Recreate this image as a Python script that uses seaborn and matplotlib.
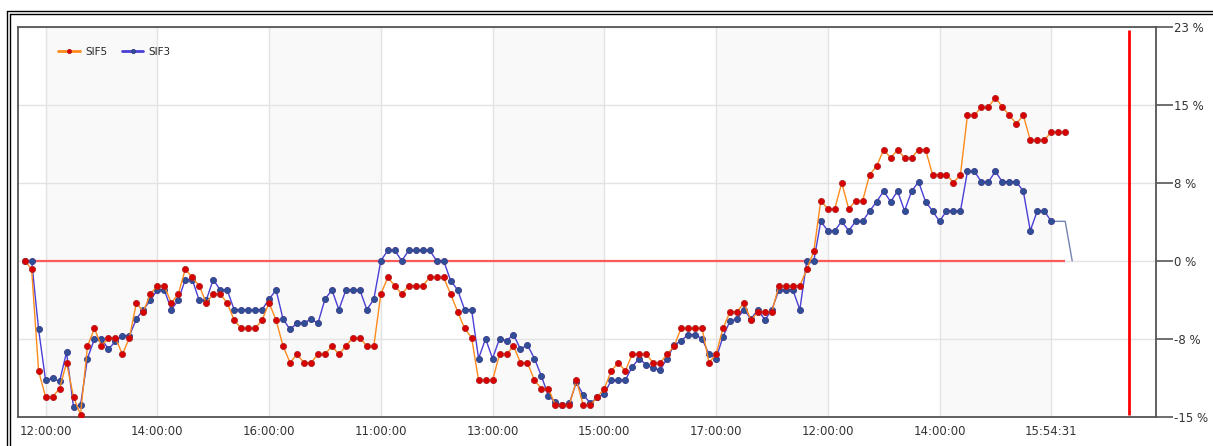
import numpy as np
import pandas as pd
import matplotlib
matplotlib.use("Agg")
import matplotlib.pyplot as plt
from matplotlib.lines import Line2D
import seaborn as sns

# --- data (one point every ~7.5 min, sessions joined) ---
sif5 = [0, -0.8, -10.6, -13.1, -13.1, -12.3, -9.8, -13.1, -14.8, -8.2,
        -6.5, -8.2, -7.4, -7.4, -9.0, -7.4, -4.05, -4.9, -3.2, -2.4,
        -2.4, -4.05, -3.2, -0.8, -1.6, -2.4, -4.05, -3.2, -3.2, -4.05,
        -5.7, -6.5, -6.5, -6.5, -5.7, -4.05, -5.7, -8.2, -9.8, -9.0,
        -9.8, -9.8, -9.0, -9.0, -8.2, -9.0, -8.2, -7.4, -7.4, -8.2,
        -8.2, -3.2, -1.6, -2.4, -3.2, -2.4, -2.4, -2.4, -1.6, -1.6,
        -1.6, -3.2, -4.9, -6.5, -7.4, -11.5, -11.5, -11.5, -9.0, -9.0,
        -8.2, -9.8, -9.8, -11.5, -12.3, -12.3, -13.9, -13.9, -13.9, -11.5,
        -13.9, -13.9, -13.1, -12.3, -10.6, -9.8, -10.6, -9.0, -9.0, -9.0,
        -9.8, -9.8, -9.0, -8.2, -6.5, -6.5, -6.5, -6.5, -9.8, -9.0,
        -6.5, -4.9, -4.9, -4.05, -5.7, -4.9, -4.9, -4.9, -2.4, -2.4,
        -2.4, -2.4, -0.8, 0.9, 5.8, 5.0, 5.0, 7.5, 5.0, 5.8,
        5.8, 8.3, 9.1, 10.7, 9.9, 10.7, 9.9, 9.9, 10.7, 10.7,
        8.3, 8.3, 8.3, 7.5, 8.3, 14.0, 14.0, 14.8, 14.8, 15.7,
        14.8, 14.0, 13.2, 14.0, 11.6, 11.6, 11.6, 12.4, 12.4, 12.4]

sif3 = [0, 0, -6.6, -11.5, -11.3, -11.6, -8.8, -14.1, -13.9, -9.4,
        -7.5, -7.5, -8.5, -7.75, -7.2, -7.2, -5.6, -4.7, -3.8, -2.8,
        -2.8, -4.7, -3.8, -1.8, -1.8, -3.8, -3.8, -1.8, -2.8, -2.8,
        -4.7, -4.7, -4.7, -4.7, -4.7, -3.7, -2.8, -5.6, -6.6, -6.0,
        -6.0, -5.6, -6.0, -3.7, -2.8, -4.7, -2.8, -2.8, -2.8, -4.7,
        -3.7, 0, 1.0, 1.0, 0, 1.0, 1.0, 1.0, 1.0, 0,
        0, -1.9, -2.8, -4.7, -4.7, -9.4, -7.5, -9.4, -7.5, -7.7,
        -7.1, -8.5, -8.1, -9.4, -11.1, -13.0, -13.6, -13.9, -13.7, -11.7,
        -12.9, -13.7, -13.15, -12.8, -11.5, -11.5, -11.5, -10.2, -9.4, -10.0,
        -10.35, -10.5, -9.4, -8.1, -7.7, -7.1, -7.1, -7.5, -9.0, -9.4,
        -7.3, -5.8, -5.6, -4.7, -5.6, -4.7, -5.7, -4.7, -2.8, -2.8,
        -2.8, -4.7, 0, 0, 3.8, 2.9, 2.9, 3.8, 2.9, 3.8,
        3.8, 4.8, 5.7, 6.7, 5.7, 6.7, 4.8, 6.7, 7.6, 5.7,
        4.8, 3.8, 4.8, 4.8, 4.8, 8.6, 8.6, 7.6, 7.6, 8.6,
        7.6, 7.6, 7.6, 6.7, 2.9, 4.8, 4.8, 3.8]
# unmarked tail of SIF3 after the last quote
sif3_tail = [3.8, 3.8, 3.8, 0]

tick_idx = [3, 19, 35, 51, 67, 83, 99, 115, 131, 147]
tick_labels = ["12:00:00", "14:00:00", "16:00:00", "11:00:00", "13:00:00",
               "15:00:00", "17:00:00", "12:00:00", "14:00:00", "15:54:31"]
y_ticks = [-15, -7.5, 0, 7.5, 15, 22.5]
y_labels = ["-15 %", "-8 %", "0 %", "8 %", "15 %", "23 %"]
cursor_idx = 158.1

df5 = pd.DataFrame({"idx": np.arange(len(sif5)), "val": sif5})
df3 = pd.DataFrame({"idx": np.arange(len(sif3)), "val": sif3})
dft = pd.DataFrame({"idx": np.arange(len(sif3) - 1, len(sif3) - 1 + len(sif3_tail)),
                    "val": sif3_tail})

sns.set_style("white")
plt.rcParams['font.family'] = ['DejaVu Sans']

fig = plt.figure(figsize=(12.13, 4.46), dpi=100)
ax = fig.add_axes([18 / 1213, 1 - 416.7 / 446, (1156 - 18) / 1213, (416.7 - 27) / 446])

# alternating background bands
for a, b in zip(tick_idx[0::2], tick_idx[1::2]):
    ax.axvspan(a, b, color="#f9f9f9", zorder=0, lw=0)

ax.grid(True, color="#e3e3e3", lw=1)
ax.set_axisbelow(True)

# zero reference line
ax.hlines(0, 0, len(sif5) - 1, color="#ff5a5a", lw=1.6, zorder=2)

sns.lineplot(data=dft, x="idx", y="val", ax=ax, color="#7682b0", lw=1.0, zorder=3)
sns.lineplot(data=df3, x="idx", y="val", ax=ax, color="#4a3fd6", lw=1.0,
             marker="o", markersize=4.4, markerfacecolor="#2f4f96",
             markeredgecolor="#3a3a8a", markeredgewidth=0.6, label="SIF3", zorder=4)
sns.lineplot(data=df5, x="idx", y="val", ax=ax, color="#ff8a1c", lw=1.0,
             marker="o", markersize=4.4, markerfacecolor="#d90000",
             markeredgecolor="#b02020", markeredgewidth=0.6, label="SIF5", zorder=5)

# cursor line
ax.vlines(cursor_idx, -14.8, 22.2, color="#ff0000", lw=2.0, zorder=6)

ax.set_xlim(-0.95, 162)
ax.set_ylim(-15, 22.5)
ax.set_xticks(tick_idx)
ax.set_xticklabels(tick_labels)
ax.yaxis.tick_right()
ax.set_yticks(y_ticks)
ax.set_yticklabels(y_labels)
ax.set_xlabel("")
ax.set_ylabel("")
ax.tick_params(axis="y", direction="out", length=12, width=1.2, color="#555555",
               labelsize=8.5, labelcolor="#333333", pad=1)
ax.tick_params(axis="x", direction="out", length=4, width=1.2, color="#555555",
               labelsize=8.5, labelcolor="#333333", pad=2)
for s in ax.spines.values():
    s.set_color("#555555")
    s.set_linewidth(1.3)

handles, labels = ax.get_legend_handles_labels()
order = [labels.index("SIF5"), labels.index("SIF3")]
leg = ax.legend([handles[i] for i in order], [labels[i] for i in order],
                loc="center left", bbox_to_anchor=(0.035, 0.936), ncol=2,
                frameon=False, fontsize=7.5, handlelength=2.1, handletextpad=0.5,
                columnspacing=1.4, borderpad=0, borderaxespad=0)
for h in leg.legend_handles:
    h.set_markersize(3)
    h.set_linewidth(2)

# screenshot frame (double line, top and left)
for off in (0, 2.5):
    fig.add_artist(Line2D([(7 + off) / 1213, (7 + off) / 1213], [0, 1 - (11 + off) / 446],
                          transform=fig.transFigure, color="black", lw=1))
    fig.add_artist(Line2D([(7 + off) / 1213, 1], [1 - (11 + off) / 446, 1 - (11 + off) / 446],
                          transform=fig.transFigure, color="black", lw=1))

fig.savefig("out.png", dpi=100)
